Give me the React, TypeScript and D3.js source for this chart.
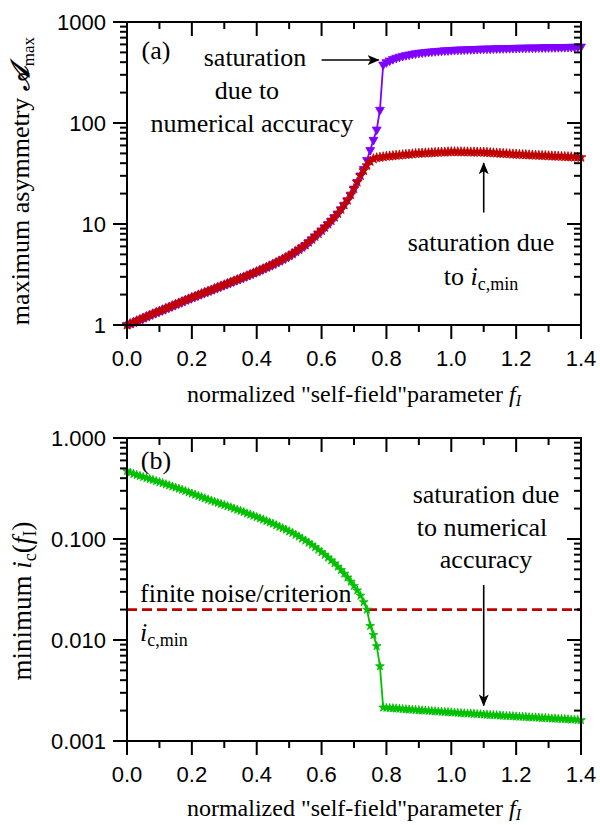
import React from "react";
import * as d3 from "d3";

// self-field parameter f_I (sampling grid of the simulation)
const fI = [
  0.0, 0.01, 0.02, 0.03, 0.04, 0.05, 0.06, 0.07, 0.08, 0.09,
  0.1, 0.11, 0.12, 0.13, 0.14, 0.15, 0.16, 0.17, 0.18, 0.19,
  0.2, 0.21, 0.22, 0.23, 0.24, 0.25, 0.26, 0.27, 0.28, 0.29,
  0.3, 0.31, 0.32, 0.33, 0.34, 0.35, 0.36, 0.37, 0.38, 0.39,
  0.4, 0.41, 0.42, 0.43, 0.44, 0.45, 0.46, 0.47, 0.48, 0.49,
  0.5, 0.51, 0.52, 0.53, 0.54, 0.55, 0.56, 0.57, 0.58, 0.59,
  0.6, 0.61, 0.62, 0.63, 0.64, 0.65, 0.66, 0.67, 0.68, 0.69,
  0.7, 0.71, 0.72, 0.73, 0.74, 0.75, 0.76, 0.77, 0.78, 0.79,
  0.8, 0.81, 0.82, 0.83, 0.84, 0.85, 0.86, 0.87, 0.88, 0.89,
  0.9, 0.91, 0.92, 0.93, 0.94, 0.95, 0.96, 0.97, 0.98, 0.99,
  1.0, 1.01, 1.02, 1.03, 1.04, 1.05, 1.06, 1.07, 1.08, 1.09,
  1.1, 1.11, 1.12, 1.13, 1.14, 1.15, 1.16, 1.17, 1.18, 1.19,
  1.2, 1.21, 1.22, 1.23, 1.24, 1.25, 1.26, 1.27, 1.28, 1.29,
  1.3, 1.31, 1.32, 1.33, 1.34, 1.35, 1.36, 1.37, 1.38, 1.39,
  1.4,
];

// (a) max asymmetry, saturated by numerical accuracy (purple)
const aMaxNumerical = [
  1.0, 1.03, 1.06, 1.1, 1.13, 1.17, 1.21, 1.25, 1.29, 1.33,
  1.37, 1.41, 1.46, 1.5, 1.55, 1.6, 1.65, 1.7, 1.76, 1.81,
  1.87, 1.92, 1.98, 2.04, 2.1, 2.16, 2.22, 2.29, 2.36, 2.43,
  2.5, 2.57, 2.65, 2.73, 2.81, 2.89, 2.98, 3.07, 3.17, 3.27,
  3.37, 3.48, 3.6, 3.72, 3.85, 3.99, 4.14, 4.3, 4.47, 4.65,
  4.84, 5.07, 5.32, 5.59, 5.88, 6.2, 6.61, 7.06, 7.54, 8.06,
  8.63, 9.28, 10.0, 10.8, 11.7, 12.7, 14.0, 15.5, 17.2, 19.5,
  22.4, 26.0, 30.2, 35.0, 43.0, 54.0, 68.0, 86.0, 135, 378,
  400, 415, 430, 442, 452, 461, 469, 476, 483, 489,
  495, 499, 503, 507, 511, 514, 517, 520, 523, 525,
  528, 530, 532, 534, 535, 537, 538, 540, 541, 543,
  544, 545, 546, 547, 548, 549, 550, 551, 552, 553,
  554, 555, 556, 557, 558, 558, 559, 560, 561, 561,
  562, 563, 563, 564, 565, 565, 566, 567, 568, 569,
  570,
];

// (a) max asymmetry, saturated by i_c,min (red)
const aMaxCriterion = [
  1.0, 1.03, 1.06, 1.1, 1.13, 1.17, 1.21, 1.25, 1.29, 1.33,
  1.37, 1.41, 1.46, 1.5, 1.55, 1.6, 1.65, 1.7, 1.76, 1.81,
  1.87, 1.92, 1.98, 2.04, 2.1, 2.16, 2.22, 2.29, 2.36, 2.43,
  2.5, 2.57, 2.65, 2.73, 2.81, 2.89, 2.98, 3.07, 3.17, 3.27,
  3.37, 3.48, 3.6, 3.72, 3.85, 3.99, 4.14, 4.3, 4.47, 4.65,
  4.84, 5.07, 5.32, 5.59, 5.88, 6.2, 6.61, 7.06, 7.54, 8.06,
  8.63, 9.28, 10.0, 10.8, 11.7, 12.7, 14.0, 15.5, 17.2, 19.5,
  22.4, 26.0, 30.2, 33.9, 38.0, 41.7, 44.2, 45.2, 45.7, 46.2,
  46.8, 47.1, 47.4, 47.8, 48.1, 48.4, 48.8, 49.1, 49.4, 49.8,
  50.1, 50.3, 50.5, 50.6, 50.8, 51.0, 51.2, 51.4, 51.5, 51.7,
  51.9, 51.9, 51.8, 51.8, 51.7, 51.7, 51.6, 51.5, 51.5, 51.4,
  51.3, 51.1, 50.8, 50.6, 50.4, 50.1, 49.9, 49.7, 49.5, 49.2,
  49.0, 48.8, 48.6, 48.5, 48.3, 48.1, 48.0, 47.8, 47.6, 47.5,
  47.3, 47.1, 47.0, 46.8, 46.6, 46.5, 46.3, 46.2, 46.0, 45.9,
  45.7,
];

// (b) minimum i_c(f_I) (green)
const icMinimum = [
  0.47, 0.454, 0.441, 0.431, 0.421, 0.411, 0.402, 0.393, 0.384, 0.375,
  0.366, 0.357, 0.348, 0.34, 0.331, 0.323, 0.315, 0.307, 0.299, 0.29,
  0.282, 0.275, 0.267, 0.26, 0.253, 0.246, 0.24, 0.234, 0.228, 0.222,
  0.217, 0.211, 0.206, 0.2, 0.195, 0.19, 0.185, 0.179, 0.175, 0.17,
  0.165, 0.16, 0.156, 0.151, 0.146, 0.142, 0.137, 0.132, 0.128, 0.124,
  0.119, 0.115, 0.11, 0.106, 0.101, 0.0966, 0.092, 0.0875, 0.083, 0.0785,
  0.0741, 0.0698, 0.0656, 0.0615, 0.0574, 0.0533, 0.0493, 0.0454, 0.0416, 0.0379,
  0.0344, 0.031, 0.0275, 0.0237, 0.02, 0.0138, 0.0112, 0.0087, 0.0055, 0.00215,
  0.00213, 0.00212, 0.00211, 0.0021, 0.00209, 0.00207, 0.00206, 0.00205, 0.00204, 0.00203,
  0.00202, 0.00201, 0.002, 0.00199, 0.00198, 0.00197, 0.00196, 0.00195, 0.00194, 0.00193,
  0.00192, 0.00191, 0.0019, 0.00189, 0.00188, 0.00187, 0.00187, 0.00186, 0.00185, 0.00184,
  0.00183, 0.00182, 0.00181, 0.00181, 0.0018, 0.00179, 0.00178, 0.00177, 0.00177, 0.00176,
  0.00175, 0.00174, 0.00174, 0.00173, 0.00172, 0.00171, 0.00171, 0.0017, 0.00169, 0.00169,
  0.00168, 0.00167, 0.00167, 0.00166, 0.00165, 0.00165, 0.00164, 0.00163, 0.00163, 0.00162,
  0.00161,
];

const icCriterion = 0.02;

const xTicks = [0, 0.2, 0.4, 0.6, 0.8, 1.0, 1.2, 1.4];
const xTickLabels = ["0.0", "0.2", "0.4", "0.6", "0.8", "1.0", "1.2", "1.4"];
const xMinorTicks = [0.1, 0.3, 0.5, 0.7, 0.9, 1.1, 1.3];
const topYTicks = [1, 10, 100, 1000];
const topYLabels = ["1", "10", "100", "1000"];
const botYTicks = [0.001, 0.01, 0.1, 1];
const botYLabels = ["0.001", "0.010", "0.100", "1.000"];

const PURPLE = "#8000ff";
const RED = "#c00000";
const GREEN = "#00c000";
const SERIF = "'Liberation Serif', 'DejaVu Serif', 'Times New Roman', serif";
const SANS = "'Liberation Sans', Arimo, Arial, 'DejaVu Sans', sans-serif";

const left = 127;
const right = 581;
const x = d3.scaleLinear().domain([0, 1.4]).range([left, right]);
const yTop = d3.scaleLog().domain([1, 1000]).range([325, 22]);
const yBot = d3.scaleLog().domain([0.001, 1]).range([741, 438]);

const minorLog = (lo, hi) => {
  const out = [];
  for (let d = lo; d < hi * 0.99; d *= 10) for (let k = 2; k <= 9; k++) out.push(d * k);
  return out;
};

const Frame = ({ y, yTicks, yLabels, yMinor }) => {
  const [y0, y1] = y.range();
  const major = 14;
  const minor = 7;
  return (
    <g stroke="#000" strokeWidth={2} fill="none">
      <rect x={left} y={y1} width={right - left} height={y0 - y1} />
      {xTicks.map((t) => (
        <g key={"xm" + t}>
          <line x1={x(t)} x2={x(t)} y1={y0} y2={y0 + major} />
          <line x1={x(t)} x2={x(t)} y1={y1} y2={y1 + major} />
        </g>
      ))}
      {xMinorTicks.map((t) => (
        <g key={"xn" + t}>
          <line x1={x(t)} x2={x(t)} y1={y0} y2={y0 + minor} />
          <line x1={x(t)} x2={x(t)} y1={y1} y2={y1 + minor} />
        </g>
      ))}
      {yTicks.map((t) => (
        <g key={"ym" + t}>
          <line x1={left - major} x2={left} y1={y(t)} y2={y(t)} />
          <line x1={right - major} x2={right} y1={y(t)} y2={y(t)} />
        </g>
      ))}
      {yMinor.map((t) => (
        <g key={"yn" + t}>
          <line x1={left - minor} x2={left} y1={y(t)} y2={y(t)} />
          <line x1={right - minor} x2={right} y1={y(t)} y2={y(t)} />
        </g>
      ))}
      <g stroke="none" fill="#000" style={{ fontFamily: SANS }} fontSize={22}>
        {xTicks.map((t, i) => (
          <text key={"xl" + t} x={x(t)} y={y0 + 41} textAnchor="middle">
            {xTickLabels[i]}
          </text>
        ))}
        {yTicks.map((t, i) => (
          <text key={"yl" + t} x={left - 21} y={y(t)} dy="0.36em" textAnchor="end">
            {yLabels[i]}
          </text>
        ))}
      </g>
    </g>
  );
};

const Series = ({ xs, ys, y, color, symbol, size, rotate = 0 }) => {
  const pts = xs.map((v, i) => [x(v), y(ys[i])]);
  const line = d3.line()(pts);
  const sym = d3.symbol().type(symbol).size(size)();
  return (
    <g>
      <path d={line} fill="none" stroke={color} strokeWidth={1.8} />
      {pts.map((p, i) => (
        <path key={i} d={sym} fill={color} stroke={color} strokeWidth={0.8} transform={`translate(${p[0]},${p[1]}) rotate(${rotate})`} />
      ))}
    </g>
  );
};

const XLabel = ({ yBase }) => (
  <text x={(left + right) / 2} y={yBase} textAnchor="middle" style={{ fontFamily: SERIF }} fontSize={24}>
    normalized "self-field"parameter <tspan fontStyle="italic">f</tspan>
    <tspan fontStyle="italic" fontSize={16} dy={4}>I</tspan>
  </text>
);

export default function App() {
  return (
    <svg width={600} height={825} style={{ display: "block", position: "absolute", left: 0, top: 0, fontFamily: SERIF }}>
      <defs>
        <marker id="head" viewBox="0 0 12 10" refX={11} refY={5} markerWidth={12} markerHeight={10} markerUnits="userSpaceOnUse" orient="auto">
          <path d="M0,0 L12,5 L0,10 L3,5 Z" fill="#000" />
        </marker>
      </defs>
      <rect width={600} height={825} fill="#fff" />

      {/* panel (a) */}
      <Series xs={fI} ys={aMaxNumerical} y={yTop} color={PURPLE} symbol={d3.symbolTriangle} size={34} rotate={180} />
      <Series xs={fI} ys={aMaxCriterion} y={yTop} color={RED} symbol={d3.symbolStar} size={30} />
      <Frame y={yTop} yTicks={topYTicks} yLabels={topYLabels} yMinor={minorLog(1, 1000)} />
      <XLabel yBase={402} />
      <text transform="translate(29,181) rotate(-90)" textAnchor="middle" fontSize={26}>
        maximum asymmetry <tspan fontStyle="italic" fontWeight="bold">𝒜</tspan>
        <tspan fontSize={17} dy={5}>max</tspan>
      </text>
      <g fontSize={26} textAnchor="middle">
        <text x={156} y={59}>(a)</text>
        <text x={255} y={66}>saturation</text>
        <text x={247} y={99}>due to</text>
        <text x={252} y={132}>numerical accuracy</text>
        <text x={481} y={251}>saturation due</text>
        <text x={481} y={285}>
          to <tspan fontStyle="italic">i</tspan>
          <tspan fontSize={18} dy={5}>c,min</tspan>
        </text>
      </g>
      <line x1={x(0.6)} x2={x(0.776)} y1={yTop(420)} y2={yTop(420)} stroke="#000" strokeWidth={1.6} markerEnd="url(#head)" />
      <line x1={x(1.1)} x2={x(1.1)} y1={yTop(13)} y2={yTop(40)} stroke="#000" strokeWidth={1.6} markerEnd="url(#head)" />

      {/* panel (b) */}
      <line x1={left} x2={right} y1={yBot(icCriterion)} y2={yBot(icCriterion)} stroke={RED} strokeWidth={2.8} strokeDasharray="10 5" />
      <Series xs={fI} ys={icMinimum} y={yBot} color={GREEN} symbol={d3.symbolStar} size={24} />
      <Frame y={yBot} yTicks={botYTicks} yLabels={botYLabels} yMinor={minorLog(0.001, 1)} />
      <XLabel yBase={816} />
      <text transform="translate(31,601) rotate(-90)" textAnchor="middle" fontSize={27}>
        minimum <tspan fontStyle="italic">i</tspan>
        <tspan fontSize={18} dy={5}>c</tspan>
        <tspan dy={-5}>(</tspan>
        <tspan fontStyle="italic">f</tspan>
        <tspan fontSize={18} dy={5}>I</tspan>
        <tspan dy={-5}>)</tspan>
      </text>
      <g fontSize={26}>
        <text x={156} y={469} textAnchor="middle">(b)</text>
        <text x={140} y={602}>finite noise/criterion</text>
        <text x={140} y={641}>
          <tspan fontStyle="italic">i</tspan>
          <tspan fontSize={18} dy={5}>c,min</tspan>
        </text>
        <g textAnchor="middle">
          <text x={486} y={503}>saturation due</text>
          <text x={482} y={536}>to numerical</text>
          <text x={486} y={568}>accuracy</text>
        </g>
      </g>
      <line x1={x(1.1)} x2={x(1.1)} y1={yBot(0.035)} y2={yBot(0.00225)} stroke="#000" strokeWidth={1.6} markerEnd="url(#head)" />
    </svg>
  );
}
